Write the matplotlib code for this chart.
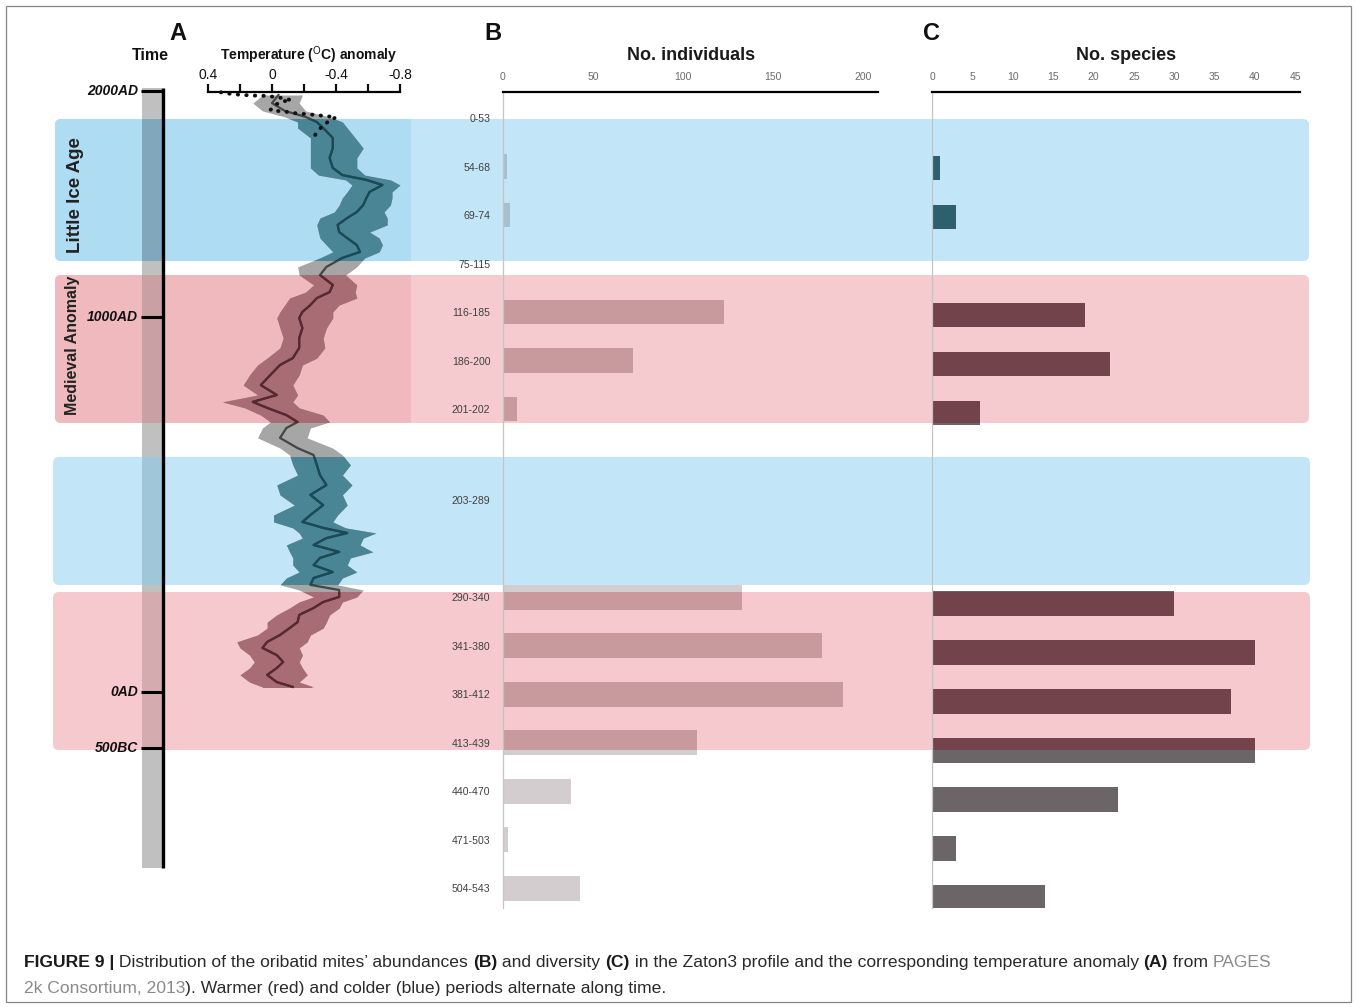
import numpy as np
import matplotlib
matplotlib.use('Agg')
import matplotlib.pyplot as plt
from matplotlib.patches import FancyBboxPatch, Rectangle

plt.rcParams['font.family'] = ['Liberation Sans', 'DejaVu Sans']
plt.rcParams['mathtext.fontset'] = 'custom'
plt.rcParams['mathtext.rm'] = 'Liberation Sans'

# ---------------- data ----------------
samples = ['0-53', '54-68', '69-74', '75-115', '116-185', '186-200', '201-202',
           '203-289', '290-340', '341-380', '381-412', '413-439', '440-470',
           '471-503', '504-543']
individuals = [0, 2, 4, 0, 123, 72, 8, 0, 133, 177, 189, 108, 38, 3, 43]
species = [0, 1, 3, 0, 19, 22, 6, 0, 30, 40, 37, 40, 23, 3, 14]

ind_ticks = [0, 50, 100, 150, 200]
spe_ticks = [0, 5, 10, 15, 20, 25, 30, 35, 40, 45]

# PAGES 2k temperature reconstruction (anomaly, deg C)
temp_years = [1990, 1963, 1937, 1917, 1900, 1880, 1847, 1813, 1780, 1747, 1723, 1707,
              1690, 1667, 1647, 1623, 1600, 1580, 1557, 1533, 1513, 1490, 1467, 1447,
              1417, 1390, 1357, 1333, 1313, 1290, 1267, 1247, 1213, 1180, 1147, 1113,
              1090, 1057, 1023, 990, 967, 947, 923, 900, 880, 847, 813, 790, 757, 723,
              690, 657, 623, 590, 567, 547, 530, 513, 490, 467, 447, 423, 400, 380,
              357, 340, 317, 300, 280, 257, 233, 213, 190, 167, 147, 123, 100, 80, 57,
              33, 17]
temp_mean = [-0.04, 0.00, -0.08, -0.21, -0.28, -0.32, -0.38, -0.38, -0.36, -0.38, -0.44, -0.59,
             -0.69, -0.61, -0.59, -0.57, -0.53, -0.47, -0.41, -0.42, -0.47, -0.53, -0.55, -0.44,
             -0.34, -0.30, -0.38, -0.36, -0.28, -0.24, -0.19, -0.17, -0.19, -0.17, -0.17, -0.13,
             -0.05, 0.01, 0.07, -0.03, 0.12, 0.03, -0.09, -0.16, -0.09, -0.05, -0.16, -0.26,
             -0.28, -0.30, -0.34, -0.24, -0.32, -0.24, -0.19, -0.32, -0.47, -0.34, -0.26, -0.42,
             -0.30, -0.26, -0.38, -0.26, -0.24, -0.42, -0.42, -0.32, -0.26, -0.17, -0.16, -0.11,
             -0.05, 0.03, 0.06, -0.03, -0.07, -0.03, 0.03, -0.03, -0.13]
temp_warm = [0.06, 0.12, 0.06, -0.08, -0.16, -0.16, -0.24, -0.24, -0.24, -0.24, -0.29, -0.46,
             -0.50, -0.47, -0.44, -0.42, -0.39, -0.30, -0.28, -0.29, -0.30, -0.34, -0.38, -0.30,
             -0.16, -0.17, -0.26, -0.21, -0.11, -0.08, -0.05, -0.03, -0.05, -0.07, -0.05, 0.03,
             0.09, 0.14, 0.18, 0.09, 0.31, 0.17, 0.07, 0.01, 0.06, 0.09, -0.05, -0.11,
             -0.13, -0.16, -0.03, -0.05, -0.14, -0.01, -0.01, -0.13, -0.17, -0.19, -0.09, -0.11,
             -0.13, -0.13, -0.17, -0.09, -0.05, -0.17, -0.26, -0.17, -0.11, -0.03, 0.03, 0.03,
             0.09, 0.22, 0.20, 0.14, 0.11, 0.14, 0.20, 0.14, 0.06]
temp_cold = [-0.19, -0.17, -0.21, -0.36, -0.44, -0.47, -0.52, -0.57, -0.53, -0.53, -0.58, -0.74,
             -0.80, -0.75, -0.75, -0.74, -0.70, -0.72, -0.72, -0.61, -0.67, -0.69, -0.67, -0.58,
             -0.53, -0.46, -0.53, -0.52, -0.53, -0.42, -0.38, -0.38, -0.34, -0.32, -0.33, -0.28,
             -0.19, -0.17, -0.13, -0.16, -0.13, -0.17, -0.32, -0.36, -0.24, -0.22, -0.38, -0.44,
             -0.49, -0.44, -0.50, -0.44, -0.47, -0.41, -0.38, -0.46, -0.65, -0.57, -0.55, -0.63,
             -0.49, -0.47, -0.53, -0.44, -0.41, -0.57, -0.53, -0.44, -0.42, -0.36, -0.34, -0.32,
             -0.24, -0.22, -0.17, -0.19, -0.17, -0.19, -0.22, -0.17, -0.26]

# instrumental record (dotted)
instr_years = [1999, 1993, 1990, 1988, 1987, 1981, 1973, 1968, 1957, 1940, 1937, 1934,
               1929, 1926, 1923, 1920, 1916, 1901, 1888, 1873, 1857]
instr_temp = [0.32, 0.25, 0.18, 0.11, 0.03, -0.05, -0.12, -0.06, -0.02, 0.01, -0.03, -0.09,
              -0.15, -0.22, -0.28, -0.33, -0.40, -0.35, -0.32, -0.29, -0.27]

temp_ticks = [0.4, 0, -0.4, -0.8]
temp_ticklabels = ['0.4', '0', '-0.4', '-0.8']
temp_minor = [0.2, -0.2, -0.6]

time_labels = ['2000AD', '1000AD', '0AD', '500BC']

# ---------------- layout helpers ----------------
W, H = 1356, 1007
fig = plt.figure(figsize=(W / 100, H / 100), dpi=100)


def px_axes(x0, y0, x1, y1, z=1):
    a = fig.add_axes([x0 / W, 1 - y1 / H, (x1 - x0) / W, (y1 - y0) / H])
    a.set_zorder(z)
    a.patch.set_alpha(0)
    return a


bg = px_axes(0, 0, W, H, z=0)
bg.set_xlim(0, W)
bg.set_ylim(H, 0)
bg.axis('off')

# coloured period boxes: (x0, y0, x1, y1, colour, darker colour in panel A, kind)
box_specs = [(55, 119, 1309, 261, '#c2e6f8', '#aedcf3', 'blue1'),
             (55, 275, 1309, 423, '#f6cbcf', '#f0b9bd', 'red1'),
             (53, 457, 1310, 585, '#c2e6f8', None, 'blue2'),
             (53, 592, 1310, 750, '#f5c9cd', None, 'red2')]
boxes = {}
for x0, y0, x1, y1, c, cl, k in box_specs:
    p = FancyBboxPatch((x0, y0), x1 - x0, y1 - y0,
                       boxstyle='round,pad=0,rounding_size=6',
                       fc=c, ec='none', zorder=1)
    bg.add_patch(p)
    if cl:
        r = Rectangle((x0, y0), 411 - x0, y1 - y0, fc=cl, ec='none', zorder=1.1)
        r.set_clip_path(p)
        bg.add_patch(r)
    boxes[k] = p

kind = {'blue1': 'blue', 'blue2': 'blue', 'red1': 'red', 'red2': 'red'}

# outer frame
bg.add_patch(Rectangle((5.5, 5.5), 1345.5, 996.5, fc='none', ec='#858585', lw=0.9, zorder=0.5))

# ---------------- time bar ----------------
time_bar_cols = {'blue1': '#80a7bc', 'red1': '#c9a0a4', 'blue2': '#a0c6d9', 'red2': '#d4abaf'}
bg.add_patch(Rectangle((142, 88), 20, 780, fc='#c0c0c0', ec='none', zorder=2))
for k, p in boxes.items():
    r = Rectangle((142, 88), 20, 780, fc=time_bar_cols[k], ec='none', zorder=2.1)
    r.set_clip_path(p)
    bg.add_patch(r)
bg.plot([162.5, 162.5], [88, 868], color='black', lw=2.4, zorder=3, solid_capstyle='butt')
time_pos = [91, 317, 692, 748]
for lab, yp in zip(time_labels, time_pos):
    bg.plot([141, 164], [yp, yp], color='black', lw=2.2, zorder=3, solid_capstyle='butt')
    bg.text(138, yp, lab, ha='right', va='center', fontsize=10, fontweight='bold',
            fontstyle='italic', color='#111111', zorder=3)

# ---------------- panel A: temperature ----------------
ax_t = px_axes(208, 92, 400, 692)
ax_t.set_xlim(0.4, -0.8)
ax_t.set_ylim(0, 2000)
for s in ['left', 'right', 'bottom']:
    ax_t.spines[s].set_visible(False)
ax_t.spines['top'].set_linewidth(1.6)
ax_t.xaxis.tick_top()
ax_t.set_xticks(temp_ticks)
ax_t.set_xticklabels(temp_ticklabels)
ax_t.set_xticks(temp_minor, minor=True)
ax_t.tick_params(axis='x', which='both', direction='out', length=6, width=1.6,
                 labelsize=10, pad=1, colors='#111111')
ax_t.set_yticks([])

band_cols = {'blue': '#4a8595', 'red': '#a86c74'}
line_cols = {'blue': '#154b5a', 'red': '#5b2631'}
ax_t.fill_betweenx(temp_years, temp_warm, temp_cold, color='#a6a6a6', lw=0, zorder=2)
ax_t.plot(temp_mean, temp_years, color='#454545', lw=1.6, zorder=3)
for k, p in boxes.items():
    f = ax_t.fill_betweenx(temp_years, temp_warm, temp_cold, color=band_cols[kind[k]],
                           lw=0, zorder=2.1)
    f.set_clip_path(p)
    ln, = ax_t.plot(temp_mean, temp_years, color=line_cols[kind[k]], lw=1.6, zorder=3.1)
    ln.set_clip_path(p)
ax_t.plot(instr_temp, instr_years, color='#111111', lw=2.8, ls=(0, (0.1, 2.1)),
          dash_capstyle='round', clip_on=False, zorder=5)

# ---------------- row positions for B / C ----------------
idx = np.arange(len(samples))
pos = idx + np.where(idx <= 6, 0.0, np.where(idx == 7, 0.88, 1.88))

# ---------------- panel B: individuals ----------------
ax_b = px_axes(503, 92, 878, 908)
ax_b.set_xlim(0, 208.3)
ax_b.set_ylim((908 - 118) / 48.5, (92 - 118) / 48.5)
ind_cols = {'blue': '#a5c1d0', 'red': '#c99a9d'}
ax_b.barh(pos, individuals, height=0.515, color='#d3cdd0', zorder=2)
for k, p in boxes.items():
    bc = ax_b.barh(pos, individuals, height=0.515, color=ind_cols[kind[k]], zorder=2.1)
    for r in bc.patches:
        r.set_clip_path(p)

# ---------------- panel C: species ----------------
ax_c = px_axes(932, 92, 1300, 908)
ax_c.set_xlim(0, 45.6)
ax_c.set_ylim((908 - 119) / 49.0, (92 - 119) / 49.0)
spe_cols = {'blue': '#2e5f6d', 'red': '#73434b'}
ax_c.barh(pos, species, height=0.51, color='#6b6567', zorder=2)
for k, p in boxes.items():
    bc = ax_c.barh(pos, species, height=0.51, color=spe_cols[kind[k]], zorder=2.1)
    for r in bc.patches:
        r.set_clip_path(p)

for a, ticks in ((ax_b, ind_ticks), (ax_c, spe_ticks)):
    for s in ['right', 'bottom']:
        a.spines[s].set_visible(False)
    a.spines['top'].set_linewidth(1.6)
    a.spines['top'].set_zorder(4)
    a.spines['left'].set_color('#c4c4c4')
    a.spines['left'].set_linewidth(0.9)
    a.xaxis.tick_top()
    a.set_xticks(ticks)
    a.tick_params(axis='x', length=0, labelsize=7.5, labelcolor='#6a6a6a', pad=7)
    a.tick_params(axis='y', length=0)

ax_b.set_yticks(pos)
ax_b.set_yticklabels(samples)
ax_b.tick_params(axis='y', labelsize=7.6, labelcolor='#404040', pad=9)
ax_c.set_yticks([])

# ---------------- headings ----------------
for lab, x in (('A', 178), ('B', 493), ('C', 931)):
    bg.text(x, 33, lab, ha='center', va='center', fontsize=17, fontweight='bold', color='#111111')
bg.text(150, 55, 'Time', ha='center', va='center', fontsize=11.5, fontweight='bold', color='#111111')
bg.text(309, 55, r'Temperature ($^{\mathrm{O}}$C) anomaly', ha='center', va='center',
        fontsize=10, fontweight='bold', color='#111111')
bg.text(691, 56, 'No. individuals', ha='center', va='center', fontsize=13,
        fontweight='bold', color='#1a1a1a')
bg.text(1126, 56, 'No. species', ha='center', va='center', fontsize=13,
        fontweight='bold', color='#1a1a1a')
bg.text(75, 195, 'Little Ice Age', rotation=90, ha='center', va='center', fontsize=13.5,
        fontweight='bold', color='#222222', zorder=4)
bg.text(72, 345, 'Medieval Anomaly', rotation=90, ha='center', va='center', fontsize=11.5,
        fontweight='bold', color='#222222', zorder=4)

# ---------------- caption ----------------
cap_size = 12.6
styles = {'b': dict(fontweight='bold', color='#1a1a1a'),
          'n': dict(color='#2a2a2a'),
          'g': dict(color='#8a8a8a')}


def write_line(x, y, pieces):
    t = bg.text(x, y, pieces[0][0], ha='left', va='baseline', fontsize=cap_size,
                **styles[pieces[0][1]])
    for txt, st in pieces[1:]:
        t = bg.annotate(txt, xy=(1, 0), xycoords=t, ha='left', va='bottom',
                        fontsize=cap_size, **styles[st])


write_line(24, 967, [('FIGURE 9 |', 'b'),
                     (' Distribution of the oribatid mites\u2019 abundances ', 'n'),
                     ('(B)', 'b'), (' and diversity ', 'n'), ('(C)', 'b'),
                     (' in the Zaton3 profile and the corresponding temperature anomaly ', 'n'),
                     ('(A)', 'b'), (' from ', 'n'), ('PAGES', 'g')])
write_line(24, 993, [('2k Consortium, 2013', 'g'),
                     ('). Warmer (red) and colder (blue) periods alternate along time.', 'n')])

fig.savefig('out.png', dpi=100)
